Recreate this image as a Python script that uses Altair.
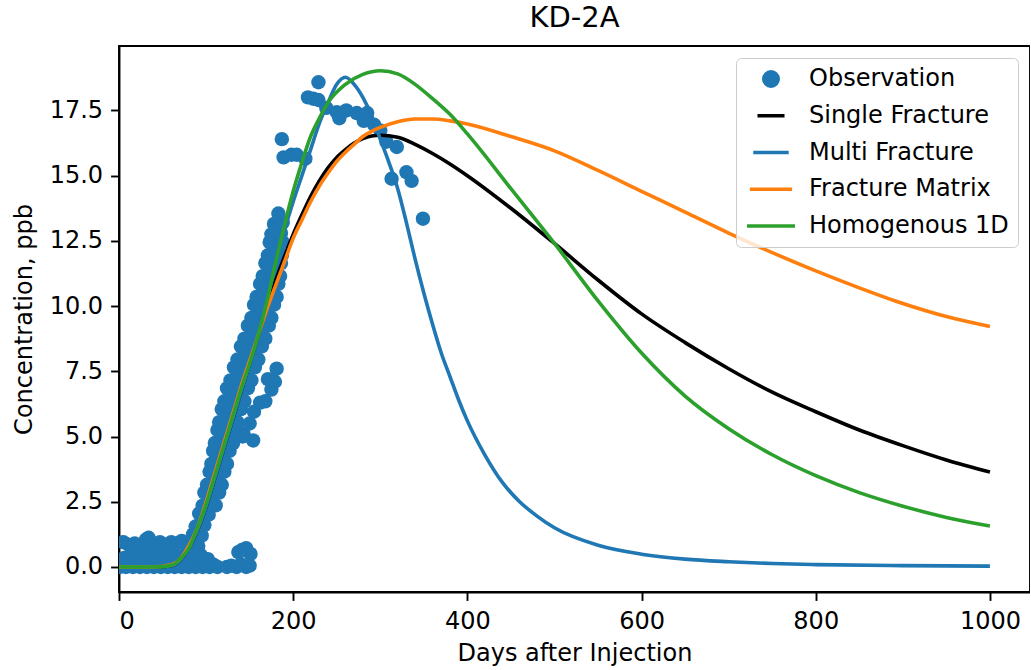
import altair as alt
import pandas as pd

# ---------------- data ----------------
series_names = ["Observation", "Single Fracture", "Multi Fracture", "Fracture Matrix", "Homogenous 1D"]
series_colors = ["#1f77b4", "#000000", "#1f77b4", "#ff7f0e", "#2ca02c"]
legend_shapes = ["circle", "stroke", "stroke", "stroke", "stroke"]
legend_sizes = [207, 2304, 2304, 2304, 2304]

x_ticks = [0, 200, 400, 600, 800, 1000]
y_ticks = [0.0, 2.5, 5.0, 7.5, 10.0, 12.5, 15.0, 17.5]

# observations (day, concentration)
obs_baseline = [
    (1, 0.0), (4, 0.05), (8, 0.0), (12, 0.1), (16, 0.0), (20, 0.05), (24, 0.0), (28, 0.1),
    (32, 0.0), (36, 0.05), (40, 0.0), (44, 0.1), (48, 0.0), (52, 0.05), (56, 0.0), (60, 0.1),
    (64, 0.0), (68, 0.05), (72, 0.0), (76, 0.1), (80, 0.0), (84, 0.05), (88, 0.0), (92, 0.1),
    (96, 0.0), (100, 0.05), (104, 0.0), (108, 0.1), (113, 0.0),
    (6, 0.35), (14, 0.5), (22, 0.3), (30, 0.55), (38, 0.4), (46, 0.6), (54, 0.35), (62, 0.5),
    (70, 0.4), (78, 0.55), (86, 0.3), (94, 0.45), (102, 0.3),
    (5, 0.95), (11, 0.85), (18, 0.9), (25, 0.8), (31, 1.05), (34, 1.12), (40, 0.9), (47, 0.95),
    (53, 0.85), (60, 0.95), (66, 0.9), (72, 1.0), (79, 0.85),
    (124, 0.0), (129, 0.05), (135, 0.0), (140, 0.1), (146, 0.0), (150, 0.05),
    (137, 0.57), (146, 0.72), (151, 0.5), (141, 0.65),
]
obs_rise = [
    (78, 0.45), (83, 0.35), (88, 0.4),
    (81, 0.75), (86, 0.85), (91, 0.8),
    (85, 1.25), (90, 1.15), (95, 1.2),
    (88, 1.55), (93, 1.65), (98, 1.6),
    (92, 2.05), (97, 1.95), (103, 2.0),
    (96, 2.35), (101, 2.45), (106, 2.4), (111, 2.36),
    (98, 2.85), (104, 2.75), (110, 2.8), (115, 2.85),
    (101, 3.15), (107, 3.25), (113, 3.2), (118, 3.15),
    (104, 3.65), (110, 3.55), (116, 3.6), (121, 3.65),
    (106, 3.95), (112, 4.05), (118, 4.0), (124, 3.95),
    (108, 4.45), (115, 4.35), (121, 4.4), (127, 4.45),
    (110, 4.75), (117, 4.85), (124, 4.8), (131, 4.75),
    (113, 5.25), (120, 5.15), (127, 5.2), (134, 5.25), (143, 5.1),
    (115, 5.55), (122, 5.65), (129, 5.6), (136, 5.55), (150, 5.5),
    (118, 6.05), (125, 5.95), (133, 6.0), (140, 6.05), (155, 5.95),
    (121, 6.35), (128, 6.45), (136, 6.4), (144, 6.35), (162, 6.3), (168, 6.35),
    (124, 6.85), (132, 6.75), (140, 6.8), (148, 6.85), (175, 6.8),
    (128, 7.15), (136, 7.25), (144, 7.2), (152, 7.15), (171, 7.2), (179, 7.1),
    (132, 7.65), (140, 7.55), (148, 7.6), (156, 7.65), (181, 7.6),
    (136, 7.95), (144, 8.05), (152, 8.0), (160, 7.95),
    (140, 8.45), (148, 8.35), (156, 8.4), (164, 8.45),
    (144, 8.75), (152, 8.85), (160, 8.8), (168, 8.75),
    (148, 9.25), (156, 9.15), (164, 9.2), (172, 9.25),
    (152, 9.55), (160, 9.65), (167, 9.6), (175, 9.55),
    (155, 10.05), (163, 9.95), (170, 10.0), (178, 10.05),
    (158, 10.35), (166, 10.45), (173, 10.4), (181, 10.35),
    (162, 10.85), (169, 10.75), (176, 10.8), (183, 10.85),
    (165, 11.15), (172, 11.25), (178, 11.2), (185, 11.15),
    (168, 11.65), (174, 11.55), (180, 11.6), (186, 11.65),
    (171, 11.95), (177, 12.05), (182, 12.0), (187, 11.95),
    (173, 12.45), (179, 12.35), (184, 12.4), (188, 12.45),
    (175, 12.75), (181, 12.85), (186, 12.8),
    (178, 13.15), (184, 13.25), (188, 13.2),
    (183, 13.55), (142, 5.0), (154, 4.85),
]
obs_peak = [
    (187, 16.4), (189, 15.7), (198, 15.8), (204, 15.8), (214, 15.65), (217, 18.0),
    (223, 17.95), (229, 18.58), (229, 17.9), (238, 17.6), (250, 17.43), (253, 17.2),
    (261, 17.5), (273, 17.4), (285, 17.4), (281, 17.1), (293, 16.95), (300, 16.73),
    (307, 16.3), (319, 16.1), (313, 14.88), (330, 15.13), (336, 14.8), (349, 13.35),
]

# model curves
single_day = [0, 40, 60, 70, 80, 90, 100, 110, 120, 130, 140, 150, 160, 170, 180, 190, 200, 210,
              220, 230, 240, 250, 260, 270, 280, 290, 300, 320, 340, 360, 380, 400, 450, 500,
              550, 600, 650, 700, 750, 800, 850, 900, 950, 1000]
single_conc = [0.0, 0.0, 0.05, 0.25, 0.7, 1.4, 2.3, 3.4, 4.5, 5.6, 6.7, 7.8, 8.9, 10.0, 11.0,
               11.9, 12.75, 13.5, 14.2, 14.8, 15.3, 15.7, 16.0, 16.25, 16.42, 16.52, 16.55,
               16.47, 16.2, 15.85, 15.45, 15.0, 13.75, 12.4, 11.0, 9.7, 8.6, 7.6, 6.7, 5.95,
               5.25, 4.65, 4.1, 3.64]

multi_day = [0, 40, 60, 70, 80, 90, 100, 110, 120, 130, 140, 150, 160, 170, 180, 190, 200, 210,
             220, 230, 240, 250, 260, 270, 280, 290, 300, 310, 320, 330, 340, 350, 360, 370,
             380, 390, 400, 420, 440, 460, 480, 500, 550, 600, 650, 700, 750, 800, 900, 1000]
multi_conc = [0.0, 0.0, 0.05, 0.25, 0.7, 1.4, 2.3, 3.4, 4.5, 5.6, 6.7, 7.8, 9.0, 10.3, 11.6,
              12.9, 14.0, 15.0, 16.0, 17.0, 17.8, 18.5, 18.77, 18.5, 18.0, 17.3, 16.4, 15.5,
              14.5, 13.2, 11.8, 10.5, 9.3, 8.2, 7.3, 6.4, 5.6, 4.3, 3.25, 2.5, 1.95, 1.5, 0.83,
              0.49, 0.3, 0.2, 0.13, 0.09, 0.05, 0.03]

matrix_day = [0, 40, 60, 70, 80, 90, 100, 110, 120, 130, 140, 150, 160, 170, 180, 190, 200, 210,
              220, 230, 240, 250, 260, 270, 280, 290, 300, 320, 340, 360, 380, 400, 450, 500,
              550, 600, 650, 700, 750, 800, 850, 900, 950, 1000]
matrix_conc = [0.0, 0.0, 0.08, 0.3, 0.8, 1.5, 2.5, 3.6, 4.7, 5.8, 6.9, 7.9, 8.9, 9.9, 10.8,
               11.7, 12.6, 13.3, 14.0, 14.6, 15.1, 15.55, 15.9, 16.2, 16.5, 16.7, 16.85, 17.07,
               17.17, 17.17, 17.1, 16.98, 16.5, 15.95, 15.2, 14.4, 13.6, 12.8, 12.05, 11.35,
               10.7, 10.1, 9.6, 9.22]

homog_day = [0, 40, 60, 70, 80, 90, 100, 110, 120, 130, 140, 150, 160, 170, 180, 190, 200, 210,
             220, 230, 240, 260, 280, 300, 320, 340, 360, 380, 400, 450, 500, 550, 600, 650,
             700, 750, 800, 850, 900, 950, 1000]
homog_conc = [0.0, 0.0, 0.06, 0.3, 0.7, 1.5, 2.4, 3.5, 4.6, 5.7, 6.8, 7.8, 8.9, 10.2, 11.7,
              13.1, 14.4, 15.5, 16.5, 17.2, 17.8, 18.5, 18.88, 19.02, 18.9, 18.5, 17.95, 17.35,
              16.6, 14.5, 12.4, 10.2, 8.2, 6.55, 5.3, 4.3, 3.5, 2.85, 2.33, 1.9, 1.57]

# ---------------- tables ----------------
obs_all = obs_baseline + obs_rise + obs_peak
obs_df = pd.DataFrame({
    "day": [p[0] for p in obs_all],
    "conc": [p[1] for p in obs_all],
    "series": "Observation",
})

curve_frames = []
for name, d, c in [
    ("Single Fracture", single_day, single_conc),
    ("Multi Fracture", multi_day, multi_conc),
    ("Fracture Matrix", matrix_day, matrix_conc),
    ("Homogenous 1D", homog_day, homog_conc),
]:
    curve_frames.append(pd.DataFrame({"day": d, "conc": c, "series": name}))
curves_df = pd.concat(curve_frames, ignore_index=True)

# ---------------- chart ----------------
FONT = "DejaVu Sans"

x_enc = alt.X("day:Q",
              scale=alt.Scale(domain=[0, 1046], nice=False, zero=False),
              axis=alt.Axis(values=x_ticks, title="Days after Injection", format="d",
                            labelPadding=9, titlePadding=8))
y_enc = alt.Y("conc:Q",
              scale=alt.Scale(domain=[-0.96, 19.97], nice=False, zero=False),
              axis=alt.Axis(values=y_ticks, title="Concentration, ppb", format=".1f",
                            labelPadding=8, titlePadding=13))

legend = alt.Legend(
    title=None, orient="top-right", offset=12, columns=1, clipHeight=24,
    rowPadding=12.75, labelOffset=12, padding=9,
    fillColor="rgba(255,255,255,0.8)", strokeColor="#cccccc", cornerRadius=5,
    labelFont=FONT, labelFontSize=24, labelColor="black", labelLimit=400,
    symbolStrokeWidth=3.6, symbolOpacity=1,
)

color_scale = alt.Scale(domain=series_names, range=series_colors)
shape_scale = alt.Scale(domain=series_names, range=legend_shapes)
size_scale = alt.Scale(domain=series_names, range=legend_sizes)

points = alt.Chart(obs_df).mark_point(filled=True, opacity=1, clip=True).encode(
    x=x_enc, y=y_enc,
    color=alt.Color("series:N", scale=color_scale, legend=legend),
    shape=alt.Shape("series:N", scale=shape_scale, legend=legend),
    size=alt.Size("series:N", scale=size_scale, legend=legend),
)

lines = alt.Chart(curves_df).mark_line(strokeWidth=3.6, clip=True, interpolate="monotone").encode(
    x=x_enc, y=y_enc,
    color=alt.Color("series:N", scale=color_scale, legend=legend),
)

chart = alt.layer(points, lines).properties(
    width=911, height=546,
    title=alt.TitleParams("KD-2A", font=FONT, fontSize=29, fontWeight="normal",
                          color="black", anchor="middle", offset=13),
    padding={"left": 119, "top": 46, "right": 0, "bottom": 78},
    autosize=alt.AutoSizeParams(type="none"),
).configure_view(
    stroke="black", strokeWidth=1.9
).configure_axis(
    grid=False, domainColor="black", domainWidth=1.9,
    tickColor="black", tickWidth=1.9, tickSize=8.4,
    labelFont=FONT, labelFontSize=24, labelColor="black",
    titleFont=FONT, titleFontSize=24, titleFontWeight="normal", titleColor="black",
)

chart.save("out.html", embed_options={"renderer": "svg", "actions": False})
